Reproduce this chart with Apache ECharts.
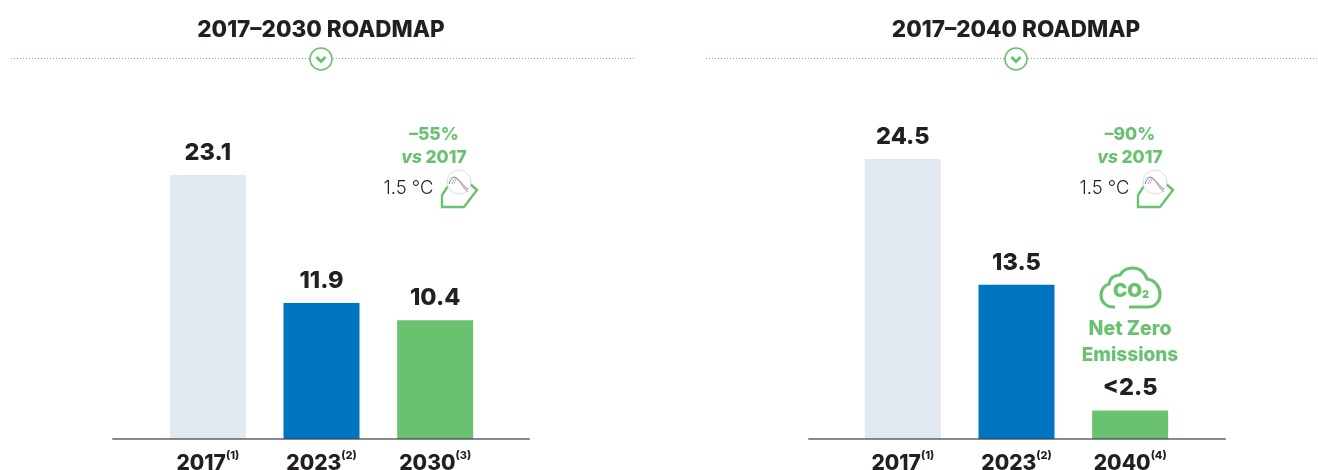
<!DOCTYPE html>
<html><head><meta charset="utf-8">
<style>html,body{margin:0;padding:0;background:#fff}#c{width:1318px;height:470px}</style>
<script src="https://cdn.jsdelivr.net/npm/echarts@6/dist/echarts.min.js"></script>
</head><body><div id="c"></div>
<script>
const leftTitle = '2017–2030 ROADMAP';
const rightTitle = '2017–2040 ROADMAP';
const leftYears = ['2017', '2023', '2030'];
const leftNotes = ['(1)', '(2)', '(3)'];
const leftValues = [23.1, 11.9, 10.4];
const leftLabels = ['23.1', '11.9', '10.4'];
const rightYears = ['2017', '2023', '2040'];
const rightNotes = ['(1)', '(2)', '(4)'];
const rightValues = [24.5, 13.5, 2.5];
const rightLabels = ['24.5', '13.5', '<2.5'];
const barColors = ['#E2E9F0', '#0075BF', '#6AC271'];
const GREEN = '#6AC271', INK = '#231F20', FONT = 'Inter';

echarts.graphic.registerShape('cloudOutline', echarts.graphic.extendPath(
  'M1115 307 L1114 307 C1105 307 1101 301 1101 295 C1101 289 1105 285 1109 284 C1110 278 1114 275 1120 275 C1123 270 1128 268 1132 268 C1140 268 1145 273 1147 279 C1155 280 1160 287 1160 294 C1160 302 1155 307 1148 307 L1129 307', {}));

const chart = echarts.init(document.getElementById('c'), null, {renderer: 'canvas'});

function axisLabel(notes) {
  return {
    interval: 0, margin: 11,
    formatter: (v, i) => '{y|' + v + '}{n|' + notes[i] + '}',
    rich: {
      y: {fontFamily: FONT, fontWeight: 800, fontSize: 21, color: INK, verticalAlign: 'bottom', lineHeight: 24},
      n: {fontFamily: FONT, fontWeight: 800, fontSize: 11, color: INK, verticalAlign: 'top', lineHeight: 24, padding: [0, 0, 10, 0]}
    }
  };
}
const hiddenY = (gridIndex) => ({type: 'value', gridIndex, min: 0, max: 35, show: false});
function barSeries(xi, values, labels) {
  return {
    type: 'bar', xAxisIndex: xi, yAxisIndex: xi, barWidth: 76,
    data: values.map((v, i) => ({value: v, itemStyle: {color: barColors[i]}})),
    label: {show: true, position: 'top', distance: 10, fontFamily: FONT, fontWeight: 800, fontSize: 23.5, color: INK,
      formatter: p => labels[p.dataIndex]},
    z: 2
  };
}
function dividerAndChevron(x1, x2, cx) {
  return [
    {type: 'line', shape: {x1, y1: 58.5, x2: cx - 12, y2: 58.5}, style: {stroke: GREEN, lineWidth: 1, lineDash: [1, 2]}},
    {type: 'line', shape: {x1: cx + 12, y1: 58.5, x2, y2: 58.5}, style: {stroke: GREEN, lineWidth: 1, lineDash: [1, 2]}},
    {type: 'circle', shape: {cx, cy: 59, r: 11}, style: {fill: '#fff', stroke: GREEN, lineWidth: 1.6}},
    {type: 'polyline', shape: {points: [[cx - 4.5, 57], [cx, 61.5], [cx + 4.5, 57]]}, style: {fill: 'none', stroke: GREEN, lineWidth: 3}}
  ];
}
function target(cx, l1, l2Year, iconDx) {
  const ox = iconDx;
  const curve = (pts, stroke) => ({type: 'bezierCurve', x: ox, shape: pts, style: {fill: 'none', stroke, lineWidth: 1}});
  return [
    {type: 'text', x: cx, y: 135, style: {text: l1, fontFamily: FONT, fontWeight: 800, fontSize: 17.5, fill: GREEN, align: 'center', verticalAlign: 'middle'}},
    {type: 'text', x: cx, y: 158, style: {
      text: '{i|vs} {b|' + l2Year + '}', align: 'center', verticalAlign: 'middle',
      rich: {i: {fontFamily: FONT, fontWeight: 800, fontStyle: 'italic', fontSize: 17.5, fill: GREEN},
             b: {fontFamily: FONT, fontWeight: 800, fontSize: 17.5, fill: GREEN}}}},
    {type: 'text', x: cx - 0.5, y: 188, style: {text: '1.5 °C', fontFamily: FONT, fontWeight: 300, fontSize: 18.5, fill: INK, align: 'right', verticalAlign: 'middle'}},
    {type: 'polyline', x: ox, shape: {points: [[448, 186], [442, 195], [442, 207], [464, 207], [477, 190], [470, 184]]}, style: {fill: 'none', stroke: GREEN, lineWidth: 2.4}},
    {type: 'circle', x: ox, shape: {cx: 459, cy: 182, r: 12}, style: {fill: '#fff', stroke: '#D9DDE0', lineWidth: 1}},
    curve({x1: 449, y1: 184, x2: 468, y2: 189, cpx1: 454, cpy1: 168, cpx2: 460, cpy2: 184}, '#4F8FB0'),
    curve({x1: 452, y1: 184, x2: 468, y2: 192, cpx1: 457, cpy1: 170, cpx2: 461, cpy2: 188}, '#D98C96'),
    curve({x1: 454, y1: 184, x2: 467, y2: 190, cpx1: 458, cpy1: 172, cpx2: 461, cpy2: 185}, '#E3A9B0')
  ];
}
const cloud = [
  {type: 'cloudOutline', shape: {}, style: {fill: 'none', stroke: GREEN, lineWidth: 3.2}},
  {type: 'text', x: 1131, y: 291, style: {text: '{a|CO}{b|2}', align: 'center', verticalAlign: 'middle',
    rich: {a: {fontFamily: FONT, fontWeight: 900, fontSize: 19, fill: GREEN},
           b: {fontFamily: FONT, fontWeight: 900, fontSize: 11, fill: GREEN, verticalAlign: 'bottom', padding: [8, 0, 0, 0]}}}},
  {type: 'text', x: 1130, y: 329.5, style: {text: 'Net Zero', fontFamily: FONT, fontWeight: 800, fontSize: 19.5, fill: GREEN, align: 'center', verticalAlign: 'middle'}},
  {type: 'text', x: 1130, y: 355.5, style: {text: 'Emissions', fontFamily: FONT, fontWeight: 800, fontSize: 19, fill: GREEN, align: 'center', verticalAlign: 'middle'}}
];

chart.setOption({
  animation: false,
  backgroundColor: '#fff',
  title: [
    {text: leftTitle, left: 316, top: 14, textAlign: 'center', textStyle: {fontFamily: FONT, fontWeight: 800, fontSize: 22.5, color: INK}},
    {text: rightTitle, left: 1011, top: 14, textAlign: 'center', textStyle: {fontFamily: FONT, fontWeight: 800, fontSize: 22.5, color: INK}}
  ],
  grid: [
    {left: 151, width: 341, top: 39, bottom: 31, outerBoundsMode: 'none'},
    {left: 846, width: 341, top: 39, bottom: 31, outerBoundsMode: 'none'},
    {left: 113, width: 416, top: 39, bottom: 31, outerBoundsMode: 'none'},
    {left: 809, width: 416, top: 39, bottom: 31, outerBoundsMode: 'none'}
  ],
  xAxis: [
    {type: 'category', gridIndex: 0, data: leftYears, axisLine: {show: false}, axisTick: {show: false}, axisLabel: axisLabel(leftNotes)},
    {type: 'category', gridIndex: 1, data: rightYears, axisLine: {show: false}, axisTick: {show: false}, axisLabel: axisLabel(rightNotes)},
    {type: 'category', gridIndex: 2, data: [''], z: 5, axisLine: {onZero: false, lineStyle: {color: 'rgba(60,60,65,0.6)', width: 2}}, axisTick: {show: false}, axisLabel: {show: false}},
    {type: 'category', gridIndex: 3, data: [''], z: 5, axisLine: {onZero: false, lineStyle: {color: 'rgba(60,60,65,0.6)', width: 2}}, axisTick: {show: false}, axisLabel: {show: false}}
  ],
  yAxis: [hiddenY(0), hiddenY(1), hiddenY(2), hiddenY(3)],
  series: [barSeries(0, leftValues, leftLabels), barSeries(1, rightValues, rightLabels)],
  graphic: [
    ...dividerAndChevron(11, 634, 321),
    ...dividerAndChevron(706, 1318, 1016),
    ...target(434, '–55%', '2017', 0),
    ...target(1130, '–90%', '2017', 696),
    ...cloud
  ]
});
</script></body></html>
